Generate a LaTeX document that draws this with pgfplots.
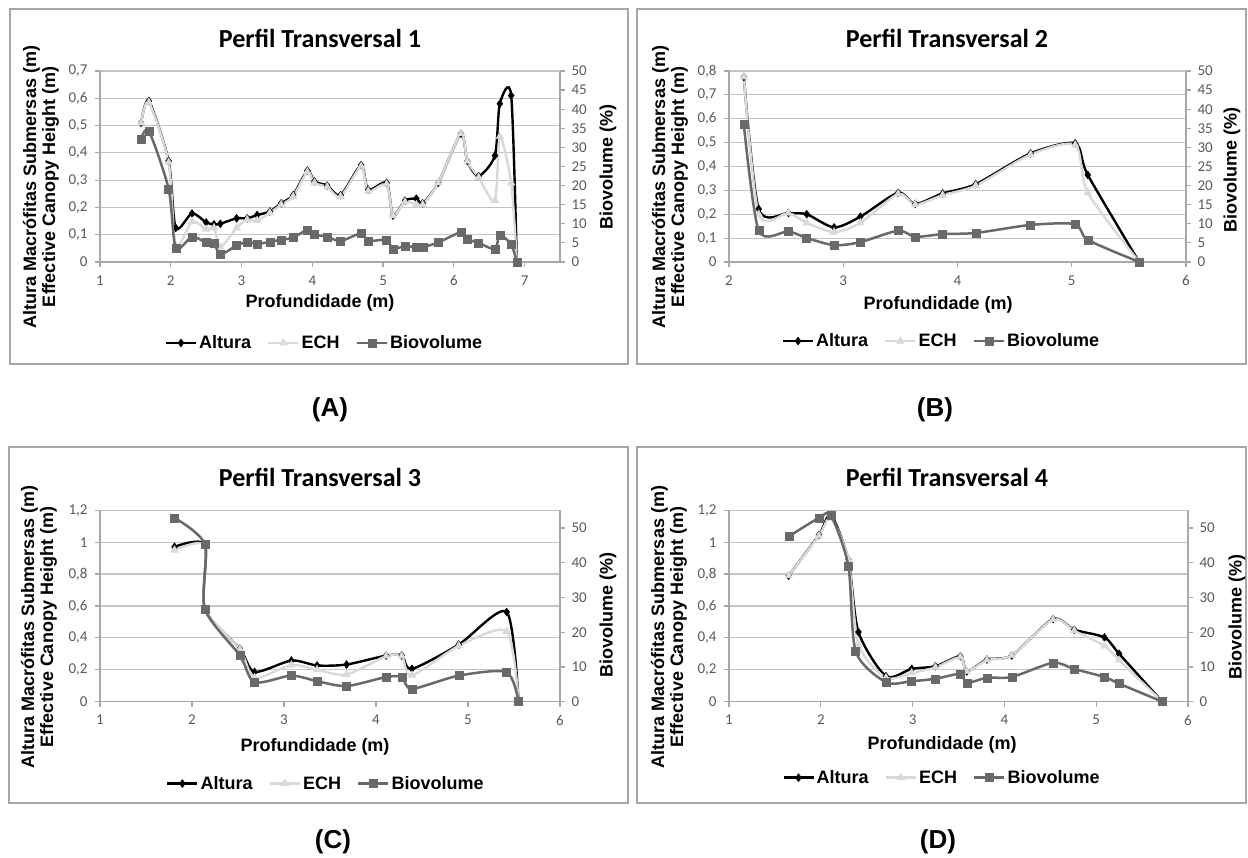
\documentclass[border=0pt]{standalone}
\usepackage{pgfplots}
\pgfplotsset{compat=1.18}
\usepackage{fontspec}
\setmainfont{Liberation Sans}
\newfontfamily\calibri{Carlito}
\definecolor{gridc}{HTML}{C4C4C4}
\definecolor{axc}{HTML}{A8A8A8}
\definecolor{tickc}{HTML}{595959}
\definecolor{echc}{HTML}{D9D9D9}
\definecolor{bioc}{HTML}{696969}
\definecolor{framec}{HTML}{A6A6A6}
\pgfplotsset{
 common/.style={scale only axis, anchor=south west, clip=false,
   axis line style={draw=axc, line width=1.2pt, -},
   every tick/.style={draw=axc, line width=1.2pt},
   tick align=outside, major tick length=5pt,
   ticklabel style={font=\calibri\fontsize{15}{17}\selectfont, text=tickc}},
 leftax/.style={common, axis x line*=bottom, axis y line*=left, ymajorgrids,
   grid style={draw=gridc, line width=1.2pt},
   yticklabel style={xshift=-4pt}, xticklabel style={yshift=-5pt}, ymin=0},
 rightax/.style={common, axis x line=none, axis y line*=right, ymin=0,
   yticklabel style={xshift=3pt},
   legend columns=3,
   legend style={draw=none, fill=none, anchor=center, inner sep=0pt,
     font=\bfseries\fontsize{18}{20}\selectfont,
     /tikz/every even column/.append style={column sep=14pt}},
   legend image code/.code={\draw[mark repeat=2,mark phase=2] plot coordinates {(0pt,0pt) (15pt,0pt) (30pt,0pt)};}},
 alt/.style={black, line width=2.4pt, smooth, tension=0.45, mark=diamond*, mark size=4pt, mark options={solid, fill=black, draw=black, line width=0.4pt}},
 ech/.style={echc, line width=2.4pt, smooth, tension=0.45, mark=triangle*, mark size=4.5pt, mark options={solid, fill=echc, draw=echc, line width=0.4pt}},
 bio/.style={bioc, line width=2.5pt, smooth, tension=0.45, mark=square*, mark size=4pt, mark options={solid, fill=bioc, draw=bioc, line width=0.4pt}},
}
\begin{document}
\begin{tikzpicture}
% frames
\draw[framec, line width=1.2pt] (10pt,494pt) rectangle (628pt,849pt);
\draw[framec, line width=1.2pt] (637pt,494pt) rectangle (1246pt,849pt);
\draw[framec, line width=1.2pt] (9pt,55pt) rectangle (628pt,411pt);
\draw[framec, line width=1.2pt] (637pt,55pt) rectangle (1246pt,411pt);

% ================= Panel A =================
\begin{axis}[leftax, at={(100pt,596pt)}, width=460pt, height=191pt,
  xmin=1, xmax=7.5, xtick={1,2,3,4,5,6,7}, xticklabels={1,2,3,4,5,6,7},
  ymax=0.7, ytick={0,0.1,0.2,0.3,0.4,0.5,0.6,0.7},
  yticklabels={0,{0,1},{0,2},{0,3},{0,4},{0,5},{0,6},{0,7}}]
\addplot[alt] coordinates {(1.58,0.51)(1.69,0.59)(1.97,0.37)(2.07,0.125)(2.30,0.178)(2.50,0.145)(2.61,0.138)(2.70,0.14)(2.93,0.16)(3.08,0.16)(3.22,0.172)(3.40,0.185)(3.56,0.215)(3.73,0.245)(3.93,0.335)(4.03,0.295)(4.21,0.28)(4.40,0.245)(4.69,0.355)(4.79,0.265)(5.05,0.29)(5.14,0.17)(5.31,0.225)(5.47,0.232)(5.56,0.215)(5.78,0.29)(6.10,0.47)(6.19,0.37)(6.35,0.315)(6.58,0.39)(6.65,0.58)(6.81,0.61)(6.89,0)};
\addplot[ech] coordinates {(1.58,0.51)(1.69,0.585)(1.97,0.365)(2.07,0.06)(2.30,0.148)(2.50,0.12)(2.61,0.125)(2.70,0.055)(2.93,0.125)(3.08,0.155)(3.22,0.152)(3.40,0.18)(3.56,0.21)(3.73,0.24)(3.93,0.33)(4.03,0.29)(4.21,0.275)(4.40,0.24)(4.69,0.35)(4.79,0.26)(5.05,0.285)(5.14,0.17)(5.31,0.22)(5.47,0.21)(5.56,0.21)(5.78,0.29)(6.10,0.47)(6.19,0.37)(6.35,0.31)(6.58,0.225)(6.65,0.46)(6.81,0.29)(6.89,0)};
\end{axis}
\begin{axis}[rightax, at={(100pt,596pt)}, width=460pt, height=191pt,
  xmin=1, xmax=7.5, ymax=50, ytick={0,5,...,50},
  yticklabels={0,5,10,15,20,25,30,35,40,45,50},
  legend style={at={(0.488,-0.424)}}]
\addlegendimage{alt}\addlegendentry{Altura}
\addlegendimage{ech}\addlegendentry{ECH}
\addplot[bio] coordinates {(1.58,32.1)(1.69,34.3)(1.97,19.1)(2.07,3.7)(2.30,6.6)(2.50,5.1)(2.61,5.0)(2.70,2.0)(2.93,4.3)(3.08,5.3)(3.22,4.7)(3.40,5.3)(3.56,5.8)(3.73,6.4)(3.93,8.4)(4.03,7.2)(4.21,6.6)(4.40,5.5)(4.69,7.5)(4.79,5.5)(5.05,5.8)(5.14,3.4)(5.31,4.2)(5.47,3.8)(5.56,3.9)(5.78,5.1)(6.10,7.8)(6.19,6.0)(6.35,5.0)(6.58,3.4)(6.65,7.0)(6.81,4.6)(6.89,0)};
\addlegendentry{Biovolume}
\end{axis}

% ================= Panel B =================
\begin{axis}[leftax, at={(729pt,596pt)}, width=457pt, height=191pt,
  xmin=2, xmax=6, xtick={2,3,4,5,6}, xticklabels={2,3,4,5,6},
  ymax=0.8, ytick={0,0.1,0.2,0.3,0.4,0.5,0.6,0.7,0.8},
  yticklabels={0,{0,1},{0,2},{0,3},{0,4},{0,5},{0,6},{0,7},{0,8}}]
\addplot[alt] coordinates {(2.13,0.775)(2.26,0.222)(2.52,0.205)(2.68,0.2)(2.92,0.145)(3.15,0.19)(3.48,0.29)(3.63,0.243)(3.87,0.287)(4.16,0.326)(4.64,0.455)(5.03,0.497)(5.14,0.365)(5.59,0)};
\addplot[ech] coordinates {(2.13,0.775)(2.26,0.2)(2.52,0.205)(2.68,0.164)(2.92,0.125)(3.15,0.164)(3.48,0.285)(3.63,0.24)(3.87,0.28)(4.16,0.32)(4.64,0.45)(5.03,0.49)(5.14,0.29)(5.59,0)};
\end{axis}
\begin{axis}[rightax, at={(729pt,596pt)}, width=457pt, height=191pt,
  xmin=2, xmax=6, ymax=50, ytick={0,5,...,50},
  yticklabels={0,5,10,15,20,25,30,35,40,45,50},
  legend style={at={(0.465,-0.414)}}]
\addlegendimage{alt}\addlegendentry{Altura}
\addlegendimage{ech}\addlegendentry{ECH}
\addplot[bio] coordinates {(2.13,36)(2.26,8.2)(2.52,8.0)(2.68,6.3)(2.92,4.4)(3.15,5.2)(3.48,8.2)(3.63,6.6)(3.87,7.3)(4.16,7.6)(4.64,9.7)(5.03,9.9)(5.14,5.8)(5.59,0)};
\addlegendentry{Biovolume}
\end{axis}

% ================= Panel C =================
\begin{axis}[leftax, at={(100pt,156.3pt)}, width=460pt, height=191.4pt,
  xmin=1, xmax=6, xtick={1,2,3,4,5,6}, xticklabels={1,2,3,4,5,6},
  ymax=1.2, ytick={0,0.2,0.4,0.6,0.8,1,1.2},
  yticklabels={0,{0,2},{0,4},{0,6},{0,8},1,{1,2}}]
\addplot[alt] coordinates {(1.81,0.971)(2.14,0.985)(2.14,0.58)(2.52,0.333)(2.68,0.187)(3.08,0.258)(3.36,0.227)(3.68,0.233)(4.11,0.289)(4.28,0.29)(4.39,0.206)(4.90,0.358)(5.42,0.563)(5.55,0)};
\addplot[ech] coordinates {(1.81,0.95)(2.14,0.98)(2.14,0.58)(2.52,0.33)(2.68,0.15)(3.08,0.229)(3.36,0.2)(3.68,0.17)(4.11,0.285)(4.28,0.285)(4.39,0.165)(4.90,0.35)(5.42,0.44)(5.55,0)};
\end{axis}
\begin{axis}[rightax, at={(100pt,156.3pt)}, width=460pt, height=191.4pt,
  xmin=1, xmax=6, ymax=55.08, ytick={0,10,...,50},
  yticklabels={0,10,20,30,40,50},
  legend style={at={(0.491,-0.428)}}]
\addlegendimage{alt}\addlegendentry{Altura}
\addlegendimage{ech}\addlegendentry{ECH}
\addplot[bio] coordinates {(1.81,52.9)(2.14,45.3)(2.14,26.7)(2.52,13.3)(2.68,5.6)(3.08,7.5)(3.36,5.9)(3.68,4.5)(4.11,7.1)(4.28,7.1)(4.39,3.7)(4.90,7.5)(5.42,8.5)(5.55,0)};
\addlegendentry{Biovolume}
\end{axis}

% ================= Panel D =================
\begin{axis}[leftax, at={(729pt,156.3pt)}, width=459pt, height=191.4pt,
  xmin=1, xmax=6, xtick={1,2,3,4,5,6}, xticklabels={1,2,3,4,5,6},
  ymax=1.2, ytick={0,0.2,0.4,0.6,0.8,1,1.2},
  yticklabels={0,{0,2},{0,4},{0,6},{0,8},1,{1,2}}]
\addplot[alt] coordinates {(1.65,0.79)(1.98,1.045)(2.11,1.17)(2.30,0.89)(2.41,0.437)(2.71,0.16)(2.99,0.206)(3.25,0.222)(3.52,0.285)(3.59,0.19)(3.81,0.264)(4.08,0.29)(4.53,0.518)(4.76,0.451)(5.09,0.403)(5.25,0.30)(5.72,0)};
\addplot[ech] coordinates {(1.65,0.79)(1.98,1.04)(2.11,1.15)(2.30,0.89)(2.41,0.36)(2.71,0.15)(2.99,0.18)(3.25,0.215)(3.52,0.28)(3.59,0.19)(3.81,0.26)(4.08,0.29)(4.53,0.515)(4.76,0.445)(5.09,0.35)(5.25,0.26)(5.72,0)};
\end{axis}
\begin{axis}[rightax, at={(729pt,156.3pt)}, width=459pt, height=191.4pt,
  xmin=1, xmax=6, ymax=55.08, ytick={0,10,...,50},
  yticklabels={0,10,20,30,40,50},
  legend style={at={(0.464,-0.397)}}]
\addlegendimage{alt}\addlegendentry{Altura}
\addlegendimage{ech}\addlegendentry{ECH}
\addplot[bio] coordinates {(1.66,47.7)(1.98,52.9)(2.11,53.6)(2.30,39.1)(2.38,14.5)(2.71,5.6)(2.99,5.9)(3.25,6.6)(3.52,8.0)(3.59,5.4)(3.81,6.9)(4.08,7.1)(4.53,11.2)(4.76,9.4)(5.09,7.1)(5.25,5.2)(5.72,0)};
\addlegendentry{Biovolume}
\end{axis}

% ================= Text =================
\tikzset{ttl/.style={font=\calibri\bfseries\fontsize{26}{30}\selectfont},
  axl/.style={font=\bfseries\fontsize{18}{19}\selectfont, align=center, inner sep=0pt},
  lett/.style={font=\bfseries\fontsize{26}{30}\selectfont}}
\node[ttl] at (320pt,820pt) {Perfil Transversal 1};
\node[ttl] at (947pt,820pt) {Perfil Transversal 2};
\node[ttl] at (320pt,381pt) {Perfil Transversal 3};
\node[ttl] at (947pt,381pt) {Perfil Transversal 4};

\node[axl] at (320pt,555pt) {Profundidade (m)};
\node[axl] at (938pt,553pt) {Profundidade (m)};
\node[axl] at (315pt,111pt) {Profundidade (m)};
\node[axl] at (942pt,113pt) {Profundidade (m)};

\node[axl, rotate=90] at (41pt,671pt) {Altura Macrófitas Submersas (m)\\Effective Canopy Height (m)};
\node[axl, rotate=90] at (670pt,671pt) {Altura Macrófitas Submersas (m)\\Effective Canopy Height (m)};
\node[axl, rotate=90] at (39pt,231pt) {Altura Macrófitas Submersas (m)\\Effective Canopy Height (m)};
\node[axl, rotate=90] at (669pt,231pt) {Altura Macrófitas Submersas (m)\\Effective Canopy Height (m)};

\node[axl, rotate=90] at (608pt,691pt) {Biovolume (\%)};
\node[axl, rotate=90] at (1232pt,688pt) {Biovolume (\%)};
\node[axl, rotate=90] at (608pt,243pt) {Biovolume (\%)};
\node[axl, rotate=90] at (1237pt,241pt) {Biovolume (\%)};

\node[lett] at (330pt,448pt) {(A)};
\node[lett] at (935pt,448pt) {(B)};
\node[lett] at (333pt,16pt) {(C)};
\node[lett] at (938pt,16pt) {(D)};

\pgfresetboundingbox
\path[use as bounding box] (0pt,0pt) rectangle (1248pt,858pt);
\end{tikzpicture}
\end{document}
